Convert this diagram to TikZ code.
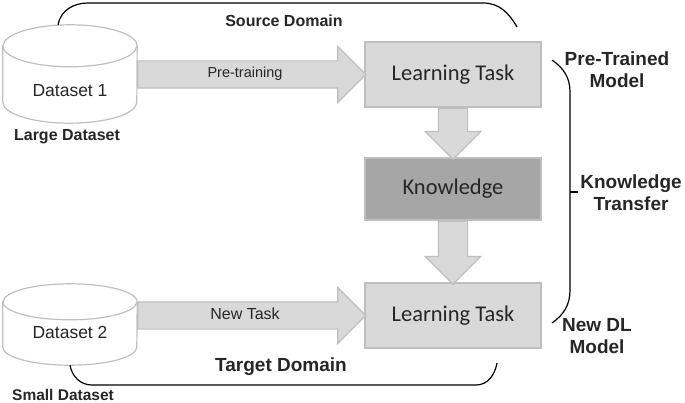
\documentclass[tikz,border=0pt]{standalone}
\usepackage{fontspec}
\setmainfont{Liberation Sans}
\newfontfamily\boxfont{Carlito}
\usepackage{tikz}
\usetikzlibrary{shapes.arrows,positioning,backgrounds}

\definecolor{taskgray}{HTML}{D9D9D9}
\definecolor{edgegray}{HTML}{BFBFBF}
\definecolor{knowgray}{HTML}{A6A6A6}
\definecolor{inkgray}{HTML}{262626}

\tikzset{
  dataset/.style={rectangle, minimum width=134pt, inner sep=0pt, text depth=0pt, text=inkgray,
    font=\fontsize{17.5}{20}\selectfont},
  cylline/.style={draw=edgegray, line width=1.2pt, fill=white},
  taskbox/.style={rectangle, draw=edgegray, fill=taskgray, line width=1.2pt, minimum width=176pt,
    minimum height=65pt, text=inkgray, font=\boxfont\fontsize{22.5}{26}\selectfont},
  fatarrow/.style={single arrow, draw=edgegray, fill=taskgray, line width=1.2pt, single arrow tip angle=90,
    inner xsep=0pt, text=inkgray},
  domainline/.style={line width=1.2pt},
  note/.style={font=\bfseries\fontsize{19}{22}\selectfont, align=center, text=inkgray}
}

\begin{document}
\begin{tikzpicture}[x=1pt,y=-1pt]
\useasboundingbox (0,0) rectangle (685,403);

\node[dataset, minimum height=98pt, text height=46pt] (data1) at (70,74) {Dataset 1};
\node[dataset, minimum height=81pt, text height=28pt] (data2) at (70,324.5) {Dataset 2};
\begin{scope}[on background layer]
\filldraw[cylline] ([yshift=-21pt]data1.north west) -- ([yshift=21pt]data1.south west)
  arc[start angle=180, end angle=360, x radius=67pt, y radius=21pt] -- ([yshift=-21pt]data1.north east)
  arc[start angle=0, end angle=180, x radius=67pt, y radius=21pt] -- cycle;
\draw[cylline, fill=none] ([yshift=-21pt]data1.north west) arc[start angle=180, end angle=360, x radius=67pt, y radius=21pt];
\filldraw[cylline] ([yshift=-18pt]data2.north west) -- ([yshift=18pt]data2.south west)
  arc[start angle=180, end angle=360, x radius=67pt, y radius=18pt] -- ([yshift=-18pt]data2.north east)
  arc[start angle=0, end angle=180, x radius=67pt, y radius=18pt] -- cycle;
\draw[cylline, fill=none] ([yshift=-18pt]data2.north west) arc[start angle=180, end angle=360, x radius=67pt, y radius=18pt];
\end{scope}

\node[taskbox] (task1) at (453,74.5) {Learning Task};
\node[taskbox, fill=knowgray, minimum height=62pt] (know) at (453,189) {Knowledge};
\node[taskbox] (task2) at (453,315.5) {Learning Task};

\node[fatarrow, anchor=tail, minimum height=228pt, single arrow head extend=14.5pt, inner ysep=6.5pt,
  text height=10pt, text depth=3pt, font=\fontsize{14.5}{16}\selectfont] (pretrain) at (data1.east |- task1.west) {Pre-training};
\node[fatarrow, anchor=tail, minimum height=228pt, single arrow head extend=14.5pt, inner ysep=6.5pt,
  text height=10pt, text depth=3pt, font=\fontsize{16}{18}\selectfont] (newtask) at (data2.east |- task2.west) {New Task};
\node[fatarrow, rotate=-90, anchor=tail, minimum height=51pt, inner ysep=14pt, single arrow head extend=13pt] (down1) at (task1.south) {};
\node[fatarrow, rotate=-90, anchor=tail, minimum height=63pt, inner ysep=14pt, single arrow head extend=13pt] (down2) at (know.south) {};

\draw[domainline] ([xshift=-12pt]data1.north) to[out=80,in=180] (88,3) -- (483,3) to[out=0,in=120] (517,27);
\draw[domainline] (data2.south) to[out=-80,in=180] (92,385) -- (476,385) to[out=0,in=-100] (497,363);
\draw[domainline] (552,60) to[out=-35,in=90] (570,92) -- (570,290) to[out=-90,in=35] (552,323);
\draw[domainline] (570,192) -- (578,192);

\node[note, font=\bfseries\fontsize{16}{19}\selectfont] (source) at (284,21) {Source Domain};
\node[note, font=\bfseries\fontsize{19}{22}\selectfont] (target) at (281,367) {Target Domain};
\node[note, font=\bfseries\fontsize{16}{19}\selectfont] (large) at (67,137) {Large Dataset};
\node[note, font=\bfseries\fontsize{15.5}{18}\selectfont] (small) at (63,395) {Small Dataset};
\node[note] (pretrained) at (617,70) {Pre-Trained\\Model};
\node[note] (transfer) at (631,193) {Knowledge\\Transfer};
\node[note] (newdl) at (597,336) {New DL\\Model};
\end{tikzpicture}
\end{document}
